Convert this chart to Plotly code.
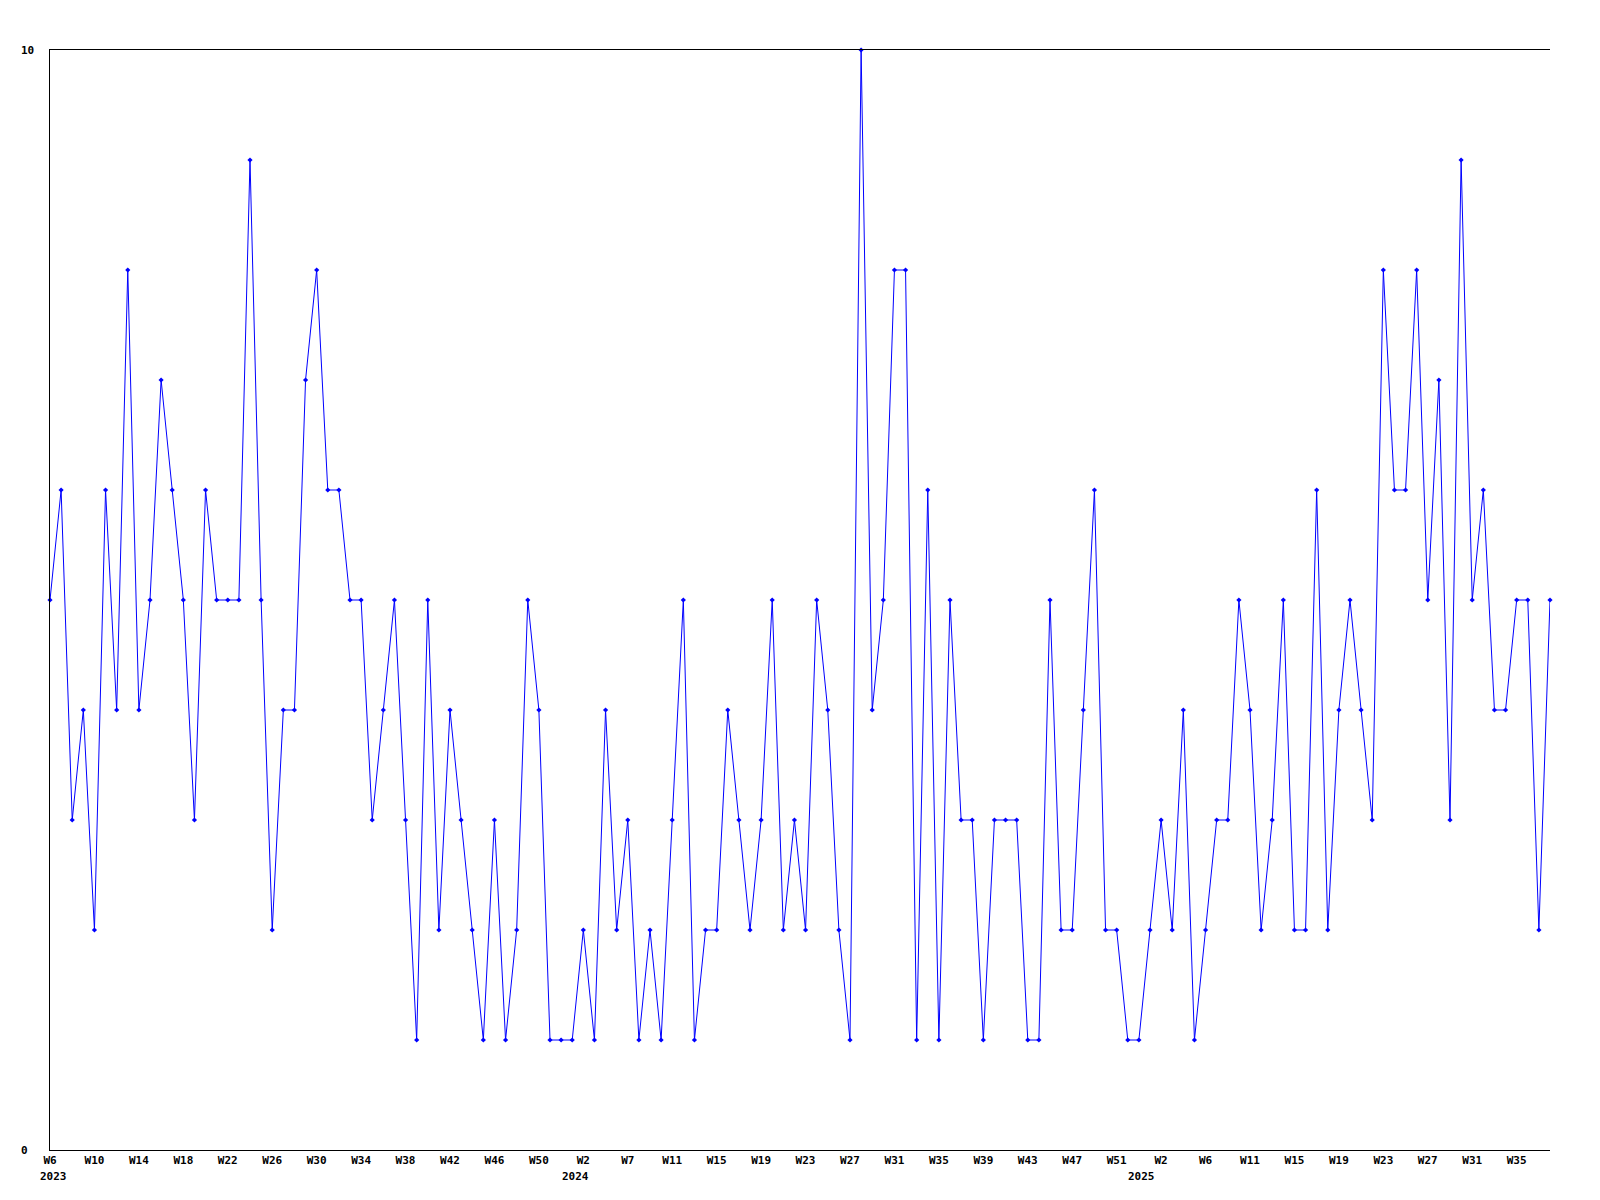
import plotly.graph_objects as go

# Weekly values, 2023 W6 .. 2025 (136 weeks)
values = [
    5, 6, 3, 4, 2, 6, 4, 8, 4, 5, 7, 6, 5, 3, 6, 5, 5, 5,
    9, 5, 2, 4, 4, 7, 8, 6, 6, 5, 5, 3, 4, 5, 3, 1, 5,
    2, 4, 3, 2, 1, 3, 1, 2, 5, 4, 1, 1, 1, 2, 1, 4, 2,
    3, 1, 2, 1, 3, 5, 1, 2, 2, 4, 3, 2, 3, 5, 2, 3, 2,
    5, 4, 2, 1, 10, 4, 5, 8, 8, 1, 6, 1, 5, 3, 3, 1, 3,
    3, 3, 1, 1, 5, 2, 2, 4, 6, 2, 2, 1, 1, 2, 3, 2, 4,
    1, 2, 3, 3, 5, 4, 2, 3, 5, 2, 2, 6, 2, 4, 5, 4, 3,
    8, 6, 6, 8, 5, 7, 3, 9, 5, 6, 4, 4, 5, 5, 2, 5,
]

# x tick labels (one every 4 weeks)
week_labels = [
    "W6", "W10", "W14", "W18", "W22", "W26", "W30", "W34", "W38", "W42", "W46", "W50",
    "W2", "W7", "W11", "W15", "W19", "W23", "W27", "W31", "W35", "W39", "W43", "W47", "W51",
    "W2", "W6", "W11", "W15", "W19", "W23", "W27", "W31", "W35",
]
year_labels = ["2023", "2024", "2025"]
year_label_pos = [0.3, 47.3, 98.2]

y_tick_labels = ["0", "10"]
y_tick_vals = [0, 10]

x = list(range(len(values)))
tick_vals = [4 * k for k in range(len(week_labels))]

FONT = dict(family="DejaVu Sans Mono", size=11, color="black", weight="bold")

fig = go.Figure()
fig.add_trace(go.Scatter(
    x=x, y=values, mode="lines+markers",
    line=dict(color="#0000FF", width=1),
    marker=dict(color="#0000FF", size=4, symbol="diamond"),
    cliponaxis=False, showlegend=False,
))

annotations = []
for lab, pos in zip(year_labels, year_label_pos):
    annotations.append(dict(
        x=pos, y=0, xref="x", yref="y", text=lab, showarrow=False,
        font=FONT, xanchor="center", yanchor="middle", yshift=-26,
    ))
for lab, v in zip(y_tick_labels, y_tick_vals):
    annotations.append(dict(
        x=0, y=v, xref="paper", yref="y", text=lab, showarrow=False,
        font=FONT, xanchor="left", yanchor="middle", xshift=-31,
    ))

fig.update_layout(
    width=1584, height=1184,
    margin=dict(l=42, r=42, t=42, b=42, pad=0),
    paper_bgcolor="white", plot_bgcolor="white",
    font=FONT,
    annotations=annotations,
    xaxis=dict(
        range=[0, len(values) - 1], tickmode="array",
        tickvals=tick_vals, ticktext=week_labels,
        showgrid=False, zeroline=False, showline=True, mirror=True,
        linecolor="black", linewidth=1, ticks="",
        tickfont=FONT,
    ),
    yaxis=dict(
        range=[0, 10], tickmode="array", tickvals=y_tick_vals,
        showticklabels=False, showgrid=False,
        zeroline=False, showline=True, linecolor="black", linewidth=1, ticks="",
    ),
)

fig.write_html("out.html")
